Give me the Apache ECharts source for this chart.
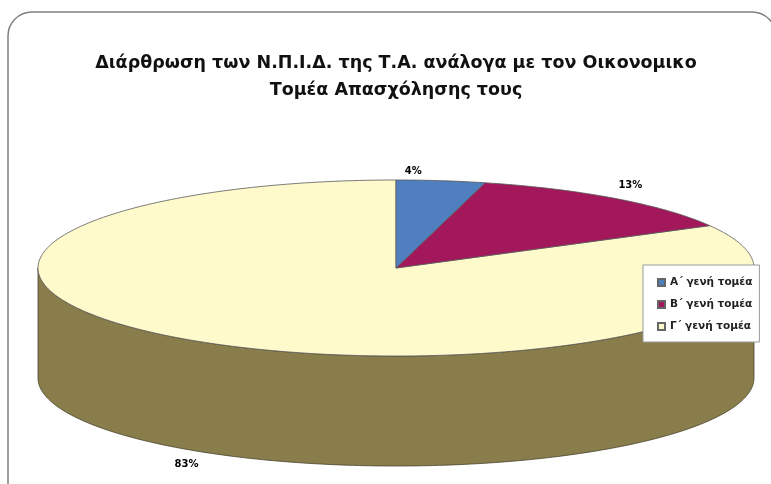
<!DOCTYPE html>
<html>
<head>
<meta charset="utf-8">
<script src="https://cdn.jsdelivr.net/npm/echarts@6/dist/echarts.min.js"></script>
<style>
  html, body { margin: 0; padding: 0; background: #fff; }
  #main { width: 771px; height: 484px; }
</style>
</head>
<body>
<div id="main"></div>
<script>
// data
var categories = ['Α΄ γενή τομέα', 'Β΄ γενή τομέα', 'Γ΄ γενή τομέα'];
var values = [4, 13, 83];
var labels = ['4%', '13%', '83%'];
var colors = ['#4f7fbf', '#a3175b', '#fffacb'];
var sideColors = ['#2f4f7a', '#6a0f3b', '#887d4b'];

// fake 3D pie geometry
var cx = 396, cy = 268, rx = 358, ry = 88, depth = 110;
// small nudges so the % labels sit where excel put them
var labelNudge = [[-32, -1], [-7, -6], [-9, 3]];

var total = values.reduce(function (a, b) { return a + b; }, 0);
var starts = [];
var acc = 0;
values.forEach(function (v) { starts.push(acc / total * 360); acc += v; });

function pt(deg, dy) {
  var r = deg * Math.PI / 180;
  return [cx + rx * Math.sin(r), cy - ry * Math.cos(r) + (dy || 0)];
}

function renderSlice(idx) {
  return function (params, api) {
    var a0 = starts[idx];
    var a1 = a0 + api.value(0) / total * 360;
    var children = [];
    // visible front side (90..270 deg)
    var s0 = Math.max(a0, 90), s1 = Math.min(a1, 270);
    if (s1 > s0) {
      var side = [];
      for (var d = s0; d <= s1; d += 1) side.push(pt(d));
      side.push(pt(s1));
      for (var d2 = s1; d2 >= s0; d2 -= 1) side.push(pt(d2, depth));
      side.push(pt(s0, depth));
      children.push({
        type: 'polygon',
        shape: { points: side },
        style: { fill: sideColors[idx], stroke: '#4a4530', lineWidth: 0.8 }
      });
    }
    // top face
    var top = [[cx, cy]];
    for (var d3 = a0; d3 <= a1; d3 += 1) top.push(pt(d3));
    top.push(pt(a1));
    children.push({
      type: 'polygon',
      shape: { points: top },
      style: { fill: colors[idx], stroke: '#5a5a5a', lineWidth: 0.8 }
    });
    // percent label
    var mid = (a0 + a1) / 2;
    var r = mid * Math.PI / 180;
    var lx = cx + rx * 1.1 * Math.sin(r) + labelNudge[idx][0];
    var ly = cy - ry * 1.1 * Math.cos(r) + (Math.cos(r) < 0 ? depth : 0) + labelNudge[idx][1];
    children.push({
      type: 'text',
      style: {
        text: labels[idx], x: lx, y: ly, align: 'center', verticalAlign: 'middle',
        font: 'bold 10px "DejaVu Sans"', fill: '#000'
      }
    });
    return { type: 'group', children: children };
  };
}

var series = categories.map(function (name, i) {
  return {
    type: 'custom',
    name: name,
    coordinateSystem: 'none',
    itemStyle: { color: colors[i], borderColor: '#666', borderWidth: 0.5 },
    renderItem: renderSlice(i),
    data: [[values[i]]],
    z: 3 - i
  };
});

var myChart = echarts.init(document.getElementById('main'));
var option = {
  animation: false,
  backgroundColor: '#fff',
  title: {
    text: 'Διάρθρωση των Ν.Π.Ι.Δ. της Τ.Α. ανάλογα με τον Οικονομικο\nΤομέα Απασχόλησης τους',
    left: 396,
    textAlign: 'center',
    top: 50,
    padding: 0,
    textStyle: {
      fontFamily: '"DejaVu Sans"',
      fontWeight: 'bold',
      fontSize: 17.5,
      lineHeight: 27,
      color: '#111'
    }
  },
  legend: {
    orient: 'vertical',
    left: 643,
    top: 265,
    padding: [12, 7, 10, 14],
    itemGap: 11,
    itemWidth: 7,
    itemHeight: 7,
    icon: 'rect',
    backgroundColor: '#fff',
    borderColor: '#9a9a9a',
    borderWidth: 1,
    data: categories,
    textStyle: {
      fontFamily: '"DejaVu Sans"', fontWeight: 'bold', fontSize: 10.5,
      color: '#222'
    }
  },
  graphic: [{
    type: 'rect',
    shape: { x: 8, y: 12, width: 768, height: 500, r: 24 },
    style: { fill: 'none', stroke: '#808080', lineWidth: 1.5 },
    z: -1
  }],
  series: series
};
myChart.setOption(option);
</script>
</body>
</html>
